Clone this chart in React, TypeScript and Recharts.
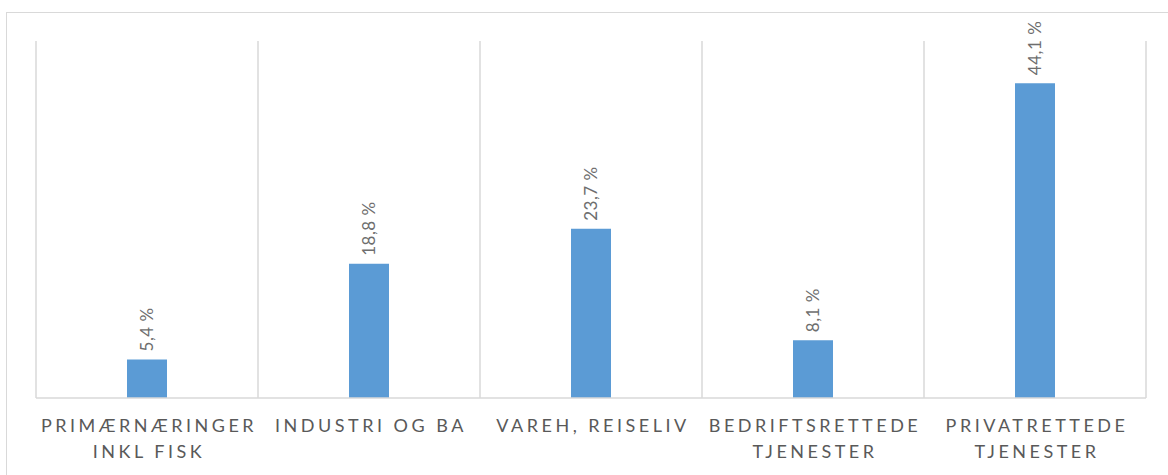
import { Bar, BarChart, CartesianGrid, LabelList, XAxis, YAxis } from 'recharts';

const categories = ['PRIMÆRNÆRINGER\nINKL FISK', 'INDUSTRI OG BA', 'VAREH, REISELIV', 'BEDRIFTSRETTEDE\nTJENESTER', 'PRIVATRETTEDE\nTJENESTER'];
const shares = [5.4, 18.8, 23.7, 8.1, 44.1];

const data = categories.map((name, i) => ({ name, value: shares[i] }));

const TEXT = '#595959';
const FONT = 'Lato, "Open Sans", sans-serif';

function CategoryTick(props: any) {
  const { x, y, payload } = props;
  const lines = String(payload.value).split('\n');
  return (
    <g transform={`translate(${x},${y})`}>
      {lines.map((line: string, i: number) => (
        <text
          key={i}
          x={2}
          y={26 + i * 26}
          textAnchor="middle"
          fill={TEXT}
          fontSize={18}
          fontFamily={FONT}
          letterSpacing={3.5}
        >
          {line}
        </text>
      ))}
    </g>
  );
}

function ValueLabel(props: any) {
  const { x, y, width, value } = props;
  const cx = x + width / 2 + 6;
  const cy = y - 8;
  return (
    <text
      x={cx}
      y={cy}
      transform={`rotate(-90, ${cx}, ${cy})`}
      textAnchor="start"
      fill="#6e6e6e"
      fontSize={17}
      fontFamily={FONT}
      letterSpacing={0.5}
    >
      {`${String(value).replace('.', ',')} %`}
    </text>
  );
}

export default function App() {
  return (
    <div style={{ position: 'absolute', left: 0, top: 0, width: 1168, height: 475, overflow: 'hidden', background: '#fff' }}>
      <div style={{ position: 'absolute', left: 6, top: 12, width: 1200, height: 500, border: '1px solid #d9d9d9' }} />
      <BarChart
        width={1168}
        height={475}
        data={data}
        margin={{ top: 41, right: 22, left: 36, bottom: 0 }}
        barCategoryGap={0}
      >
        <CartesianGrid
          horizontal={false}
          stroke="#d9d9d9"
          strokeWidth={1.5}
          verticalCoordinatesGenerator={({ offset }: any) =>
            categories.map((_, i) => offset.left + (i * offset.width) / categories.length).concat(offset.left + offset.width)
          }
        />
        <XAxis
          dataKey="name"
          interval={0}
          height={77}
          tickLine={false}
          axisLine={{ stroke: '#d9d9d9', strokeWidth: 1.5 }}
          tick={<CategoryTick />}
        />
        <YAxis hide domain={[0, 50]} />
        <Bar dataKey="value" fill="#5B9BD5" barSize={40} isAnimationActive={false}>
          <LabelList dataKey="value" content={<ValueLabel />} />
        </Bar>
      </BarChart>
    </div>
  );
}
